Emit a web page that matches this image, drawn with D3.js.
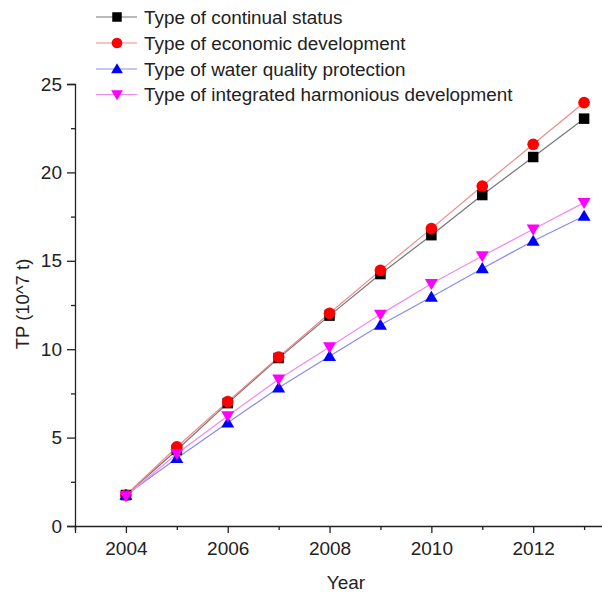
<!DOCTYPE html>
<html>
<head>
<meta charset="utf-8">
<script src="https://cdn.jsdelivr.net/npm/d3@7"></script>
<style>
  html, body { margin: 0; padding: 0; background: #fff; }
  svg { display: block; overflow: hidden; }
  text { font-family: "Liberation Sans", Arial, sans-serif; fill: #222; }
</style>
</head>
<body>
<svg id="chart" width="602" height="596"></svg>
<script>
const years = [2004, 2005, 2006, 2007, 2008, 2009, 2010, 2011, 2012, 2013];
const continualStatus = [1.75, 4.3, 6.95, 9.5, 11.9, 14.25, 16.45, 18.72, 20.87, 23.04];
const economicDevelopment = [1.75, 4.47, 7.03, 9.56, 12.03, 14.46, 16.82, 19.23, 21.59, 23.95];
const waterQualityProtection = [1.75, 3.83, 5.84, 7.82, 9.6, 11.37, 12.95, 14.57, 16.12, 17.53];
const integratedHarmonious = [1.7, 4.09, 6.22, 8.3, 10.12, 11.97, 13.7, 15.27, 16.78, 18.29];
const seriesNames = ["Type of continual status", "Type of economic development", "Type of water quality protection", "Type of integrated harmonious development"];
const xTickLabels = [2004, 2006, 2008, 2010, 2012];
const yTickLabels = [0, 5, 10, 15, 20, 25];

const series = [
  { name: seriesNames[0], values: continualStatus, line: "#777777", fill: "#000000", symbol: "square" },
  { name: seriesNames[1], values: economicDevelopment, line: "#f08a8a", fill: "#ff0000", symbol: "circle" },
  { name: seriesNames[2], values: waterQualityProtection, line: "#8a8af0", fill: "#0000ff", symbol: "up" },
  { name: seriesNames[3], values: integratedHarmonious, line: "#f08af0", fill: "#ff00ff", symbol: "down" }
];

const svg = d3.select("#chart");
const x = d3.scaleLinear().domain([2003, 2014]).range([75, 635]);
const y = d3.scaleLinear().domain([0, 25]).range([526, 84]);

// axes
const xAxis = svg.append("g").attr("transform", `translate(0,${y(0)})`);
xAxis.call(d3.axisBottom(x).tickValues(xTickLabels).tickFormat(d3.format("d")).tickSizeOuter(0).tickSize(7).tickPadding(9));
const xMinor = svg.append("g").attr("transform", `translate(0,${y(0)})`);
xMinor.call(d3.axisBottom(x).tickValues([2003, 2005, 2007, 2009, 2011, 2013]).tickFormat("").tickSizeOuter(0).tickSize(4));
xMinor.select(".domain").remove();

const yAxis = svg.append("g").attr("transform", `translate(${x(2003)},0)`);
yAxis.call(d3.axisLeft(y).tickValues(yTickLabels).tickSizeOuter(0).tickSize(8).tickPadding(5));
const yMinor = svg.append("g").attr("transform", `translate(${x(2003)},0)`);
yMinor.call(d3.axisLeft(y).tickValues([2.5, 7.5, 12.5, 17.5, 22.5]).tickFormat("").tickSizeOuter(0).tickSize(4));
yMinor.select(".domain").remove();

svg.selectAll(".domain, .tick line").attr("stroke", "#222").attr("stroke-width", 1.3);
svg.selectAll(".tick text").style("font-size", "19px").attr("fill", "#222");

// axis titles
svg.append("text").attr("x", 346).attr("y", 589).attr("text-anchor", "middle").style("font-size", "19px").text("Year");
svg.append("text").attr("transform", `translate(29,304) rotate(-90)`).attr("text-anchor", "middle").style("font-size", "18.5px").text("TP (10^7 t)");

// symbols
function drawSymbol(g, type, color, cx, cy, s) {
  if (type === "square") {
    g.append("rect").attr("x", cx - s/2).attr("y", cy - s/2).attr("width", s).attr("height", s).attr("fill", color);
  } else if (type === "circle") {
    g.append("circle").attr("cx", cx).attr("cy", cy).attr("r", s/2 + 0.6).attr("fill", color);
  } else if (type === "up") {
    g.append("path").attr("d", `M${cx},${cy - s*0.6}L${cx + s*0.62},${cy + s*0.45}L${cx - s*0.62},${cy + s*0.45}Z`).attr("fill", color);
  } else {
    g.append("path").attr("d", `M${cx},${cy + s*0.6}L${cx + s*0.62},${cy - s*0.45}L${cx - s*0.62},${cy - s*0.45}Z`).attr("fill", color);
  }
}

const line = d3.line().x((d, i) => x(years[i])).y(d => y(d));
series.forEach(s => {
  svg.append("path").datum(s.values).attr("d", line).attr("fill", "none").attr("stroke", s.line).attr("stroke-width", 1.2);
});
series.forEach(s => {
  const g = svg.append("g");
  s.values.forEach((v, i) => drawSymbol(g, s.symbol, s.fill, x(years[i]), y(v), 10.5));
});

// legend
const legendY = [17, 43, 69, 94.5];
series.forEach((s, i) => {
  const g = svg.append("g");
  g.append("line").attr("x1", 96).attr("x2", 137).attr("y1", legendY[i]).attr("y2", legendY[i]).attr("stroke", s.line).attr("stroke-width", 1.2);
  drawSymbol(g, s.symbol, s.fill, 117, legendY[i], 9.5);
  g.append("text").attr("x", 144).attr("y", legendY[i]).attr("dy", "0.36em").style("font-size", "18.9px").text(s.name);
});
</script>
</body>
</html>
